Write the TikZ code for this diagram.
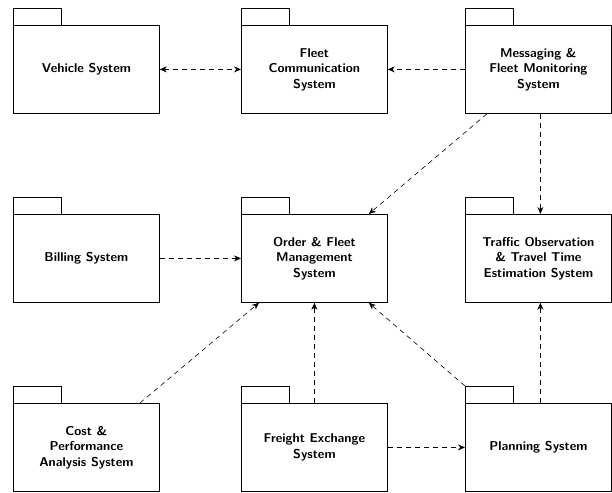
\documentclass[tikz,border=0pt]{standalone}
\usepackage{tikz}
\usetikzlibrary{arrows.meta, calc}

\tikzset{
  pkg/.style={draw, line width=0.8pt, anchor=north west, minimum width=146pt,
    minimum height=88pt, align=center, inner sep=2pt,
    font=\sffamily\bfseries\fontsize{12.8}{15.5}\selectfont},
  dep/.style={dash pattern=on 5pt off 4pt, line width=0.6pt, -{Stealth[length=7pt, width=6pt]}},
}

\begin{document}
\begin{tikzpicture}[x=1pt, y=-1pt]
    \useasboundingbox (0,0) rectangle (612,492);

    % Pakete, Zeile 1
    \node[pkg] (vehicle) at (13, 25) {Vehicle System};
    \node[pkg] (comm) at (241, 25) {Fleet\\Communication\\System};
    \node[pkg] (msg) at (465, 25) {Messaging \&\\Fleet Monitoring\\System};

    % Zeile 2
    \node[pkg] (billing) at (13, 214) {Billing System};
    \node[pkg] (order) at (241, 214) {Order \& Fleet\\Management\\System};
    \node[pkg] (traffic) at (465, 214) {Traffic Observation\\\& Travel Time\\Estimation System};

    % Zeile 3
    \node[pkg] (cost) at (13, 403) {Cost \&\\Performance\\Analysis System};
    \node[pkg] (freight) at (241, 403) {Freight Exchange\\System};
    \node[pkg] (plan) at (465, 403) {Planning System};

    % Reiter
    \foreach \p in {vehicle, comm, msg, billing, order, traffic, cost, freight, plan}
        \draw[line width=0.8pt] (\p.north west) rectangle ++(48, -17);

    % Abhaengigkeiten
    \draw[dep, {Stealth[length=7pt, width=6pt]}-{Stealth[length=7pt, width=6pt]}] (vehicle) -- (comm);
    \draw[dep] (msg) -- (comm);
    \draw[dep] ($(msg.south west)+(22pt,0pt)$) -- ($(order.north east)+(-19pt,0pt)$);
    \draw[dep] ([xshift=2pt]msg.south) -- ([xshift=2pt]traffic.north);
    \draw[dep] (billing) -- (order);
    \draw[dep] ($(cost.north west)+(127pt,0pt)$) -- ($(order.south west)+(18pt,0pt)$);
    \draw[dep] (freight) -- (order);
    \draw[dep] (freight) -- (plan);
    \draw[dep] ([yshift=17pt]plan.north west) -- ($(order.south east)+(-19pt,0pt)$);
    \draw[dep] ([xshift=2pt]plan.north) -- ([xshift=2pt]traffic.south);
\end{tikzpicture}
\end{document}
